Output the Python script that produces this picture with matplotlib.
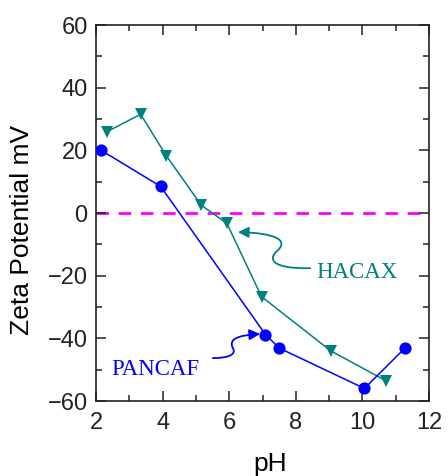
import numpy as np
import matplotlib
matplotlib.use('Agg')
import matplotlib.pyplot as plt
from matplotlib.path import Path
from matplotlib.patches import FancyArrowPatch
from matplotlib.ticker import MultipleLocator

# data
pancaf_ph = [2.14, 3.94, 7.09, 7.5, 10.06, 11.27]
pancaf_zeta = [20.1, 8.5, -38.8, -43.1, -56.0, -43.2]

hacax_ph = [2.34, 3.34, 4.11, 5.16, 5.93, 6.97, 9.05, 10.7]
hacax_zeta = [26.0, 31.5, 18.3, 2.5, -3.3, -26.7, -44.0, -53.5]

BLUE = '#0000ff'
TEAL = '#008080'

plt.rcParams['font.family'] = ['Liberation Sans', 'DejaVu Sans']

fig = plt.figure(figsize=(4.48, 4.76), dpi=100)
ax = fig.add_axes([96/448, 1 - 401/476, (429 - 96)/448, (401 - 25)/476])

ax.axhline(0, color='#ff00ff', lw=2, ls=(0, (4.5, 3.5)), zorder=1)

ax.plot(hacax_ph, hacax_zeta, color=TEAL, lw=1.1, marker='v', ms=9,
        markeredgewidth=0, zorder=3)
ax.plot(pancaf_ph, pancaf_zeta, color=BLUE, lw=1.1, marker='o', ms=8.8,
        markeredgewidth=0, zorder=4)

ax.set_xlim(2, 12)
ax.set_ylim(-60, 60)
ax.xaxis.set_major_locator(MultipleLocator(2))
ax.xaxis.set_minor_locator(MultipleLocator(1))
ax.yaxis.set_major_locator(MultipleLocator(20))
ax.yaxis.set_minor_locator(MultipleLocator(10))
ax.tick_params(which='both', direction='in', top=True, right=True,
               width=1.1, labelsize=17, colors='#222222')
ax.tick_params(which='major', length=7)
ax.tick_params(which='minor', length=4.5)
ax.tick_params(axis='x', pad=8)
ax.tick_params(axis='y', pad=6)
for s in ax.spines.values():
    s.set_linewidth(1.2)
    s.set_color('#222222')

ax.set_xlabel('pH', fontsize=19)
ax.set_ylabel('Zeta Potential mV', fontsize=19)
ax.xaxis.set_label_coords(0.522, -0.135)
ax.yaxis.set_label_coords(-0.185, 0.455)

# curly annotation arrows
C = Path.CURVE4
hac_path = Path([(8.43, -17.6), (7.22, -17.9), (7.16, -14.4), (7.47, -11.8),
                 (7.77, -8.6), (7.38, -6.4), (6.26, -6.1)],
                [Path.MOVETO, C, C, C, C, C, C])
ax.add_patch(FancyArrowPatch(path=hac_path, arrowstyle='-|>', mutation_scale=16,
                             color=TEAL, lw=1.3, zorder=5))
ax.text(9.83, -19, 'HACAX', color=TEAL, fontsize=16.5, ha='center', va='center',
        family=['Liberation Serif', 'DejaVu Serif'])

pan_path = Path([(5.51, -46.3), (5.95, -46.3), (6.23, -45.3), (6.11, -43.1),
                 (5.96, -40.0), (6.32, -39.0), (6.93, -38.6)],
                [Path.MOVETO, C, C, C, C, C, C])
ax.add_patch(FancyArrowPatch(path=pan_path, arrowstyle='-|>', mutation_scale=16,
                             color=BLUE, lw=1.3, zorder=5))
ax.text(3.77, -49.8, 'PANCAF', color=BLUE, fontsize=16.5, ha='center', va='center',
        family=['Liberation Serif', 'DejaVu Serif'])

fig.savefig('out.png', dpi=100)
